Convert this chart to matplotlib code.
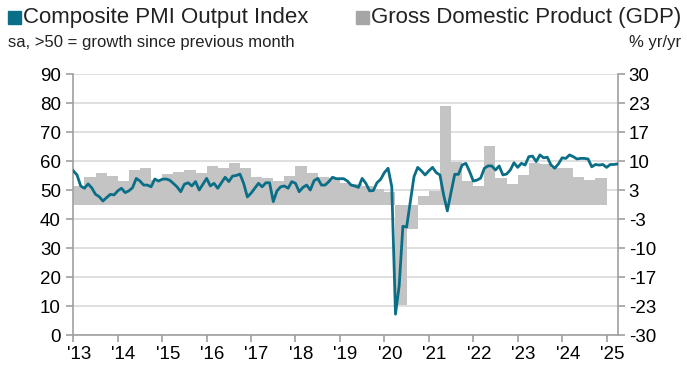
import numpy as np
import matplotlib.pyplot as plt
from matplotlib.patches import Rectangle
from matplotlib.transforms import ScaledTranslation

# composite PMI, monthly Jan 2013 .. Apr 2025
pmi = [
    56.6, 55.2, 51.4, 50.6, 52.1, 50.7, 48.5, 47.7, 46.2, 47.4, 48.5, 48.3,  # 2013
    49.7, 50.6, 49.1, 49.7, 50.8, 54.0, 53.1, 51.7, 51.7, 51.1, 53.8, 53.1,  # 2014
    53.7, 53.8, 53.4, 52.3, 51.1, 49.4, 52.0, 52.5, 51.4, 52.9, 50.0, 52.0,  # 2015
    54.0, 51.4, 52.3, 50.6, 52.5, 54.4, 52.9, 54.8, 55.0, 55.5, 52.3, 47.6,  # 2016
    48.9, 50.6, 52.3, 51.1, 52.5, 52.5, 46.0, 49.7, 51.1, 51.4, 50.6, 52.9,  # 2017
    52.3, 49.4, 50.9, 51.7, 50.0, 53.2, 54.0, 51.7, 51.7, 52.9, 54.4, 53.9,  # 2018
    53.9, 53.9, 53.1, 51.7, 51.4, 50.9, 54.0, 52.3, 49.7, 49.8, 52.5, 53.7,  # 2019
    56.0, 57.5, 51.1, 7.2, 17.0, 37.5, 37.2, 46.0, 54.6, 57.8, 56.6, 55.2,   # 2020
    56.6, 57.8, 56.0, 55.2, 48.3, 42.8, 49.2, 55.4, 55.4, 58.6, 59.2, 56.4,  # 2021
    53.1, 53.4, 54.1, 57.5, 58.3, 58.3, 56.9, 58.3, 55.2, 55.5, 56.9, 59.4,  # 2022
    57.8, 59.2, 58.6, 61.5, 61.7, 59.8, 62.1, 61.1, 61.3, 58.6, 57.5, 59.0,  # 2023
    61.1, 60.9, 62.1, 61.5, 60.7, 60.9, 60.9, 60.7, 58.0, 58.8, 58.6, 58.8,  # 2024
    57.8, 58.8, 58.8, 59.0,                                                  # 2025
]

# GDP % yr/yr, quarterly Q1 2013 .. Q4 2024
gdp = [
    4.3, 6.4, 7.2, 6.6,
    5.3, 7.9, 8.5, 5.6,
    7.0, 7.5, 7.9, 7.2,
    8.9, 8.5, 9.6, 8.5,
    6.3, 6.0, 5.3, 6.6,
    8.9, 7.2, 6.4, 6.0,
    5.0, 4.7, 4.3, 3.5,
    2.9, -23.1, -5.7, 1.9,
    3.0, 22.6, 9.8, 5.5,
    4.3, 13.4, 6.0, 4.7,
    6.8, 9.6, 9.3, 8.3,
    8.3, 6.4, 5.6, 6.2,
]

years = list(range(2013, 2026))
year_labels = ["'%02d" % (y % 100) for y in years]
left_ticks = list(range(0, 100, 10))
right_ticks = np.linspace(-30, 30, 10)

teal = '#0a6e87'
bar_grey = '#c4c4c4'
axis_grey = '#a0a0a0'
plt.rcParams['font.family'] = ['Liberation Sans', 'DejaVu Sans']

pmi_x = 2013 + np.arange(len(pmi)) / 12
gdp_x = 2013 + np.arange(len(gdp)) / 4

W, H = 687, 377
fig = plt.figure(figsize=(W / 100, H / 100), dpi=100)
ax = fig.add_axes([0.1067, 0.1114, 0.7924, 0.6923])
ax2 = ax.twinx()

# bars on right axis, drawn under the line
ax2.bar(gdp_x, gdp, width=0.25, align='edge', color=bar_grey, linewidth=0, zorder=2)
ax2.set_ylim(-30, 30)
ax2.set_yticks(right_ticks)
ax2.set_yticklabels(['%d' % round(v) for v in right_ticks])
ax2.yaxis.grid(True, color='#dcdcdc', linewidth=1.3)
ax2.set_axisbelow(True)

ax.plot(pmi_x, pmi, color=teal, linewidth=2.0, solid_joinstyle='round', zorder=3)
ax.set_ylim(0, 90)
ax.set_yticks(left_ticks)
ax.set_xlim(2013, 2025.25)
ax.set_xticks(years)
ax.set_xticklabels(year_labels)
ax.set_zorder(ax2.get_zorder() + 1)
ax.patch.set_visible(False)

for a in (ax, ax2):
    for s in a.spines.values():
        s.set_visible(False)
ax.spines['left'].set_visible(True)
ax.spines['bottom'].set_visible(True)
ax2.spines['right'].set_visible(True)
for s in (ax.spines['left'], ax.spines['bottom'], ax2.spines['right']):
    s.set_color(axis_grey)
    s.set_linewidth(1.2)

ax.tick_params(axis='y', length=5, width=1.2, color=axis_grey, labelsize=13.5, pad=4)
ax.tick_params(axis='x', length=5, width=1.2, color=axis_grey, labelsize=13.5, pad=3)
ax2.tick_params(axis='y', length=5, width=1.2, color=axis_grey, labelsize=13.5, pad=3)

off = ScaledTranslation(4 / 72, 0, fig.dpi_scale_trans)
for lab in ax.get_xticklabels():
    lab.set_transform(lab.get_transform() + off)

# header
txt_col = '#222222'
fig.patches.append(Rectangle((8 / W, 1 - 24 / H), 13 / W, 13 / H,
                             transform=fig.transFigure, color=teal))
fig.text(23 / W, 1 - 18 / H, 'Composite PMI Output Index', fontsize=16,
         va='center', ha='left', color=txt_col)
fig.text(8 / W, 1 - 42 / H, 'sa, >50 = growth since previous month', fontsize=12,
         va='center', ha='left', color=txt_col)
gdp_title = fig.text(681 / W, 1 - 18 / H, 'Gross Domestic Product (GDP)', fontsize=16,
                     va='center', ha='right', color=txt_col)
fig.text(681 / W, 1 - 42 / H, '% yr/yr', fontsize=12,
         va='center', ha='right', color=txt_col)

# grey square just left of the GDP title
fig.canvas.draw()
bb = gdp_title.get_window_extent()
fig.patches.append(Rectangle(((bb.x0 - 15) / W, 1 - 24 / H), 13 / W, 13 / H,
                             transform=fig.transFigure, color='#a6a6a6'))

fig.savefig('out.png', dpi=100)
